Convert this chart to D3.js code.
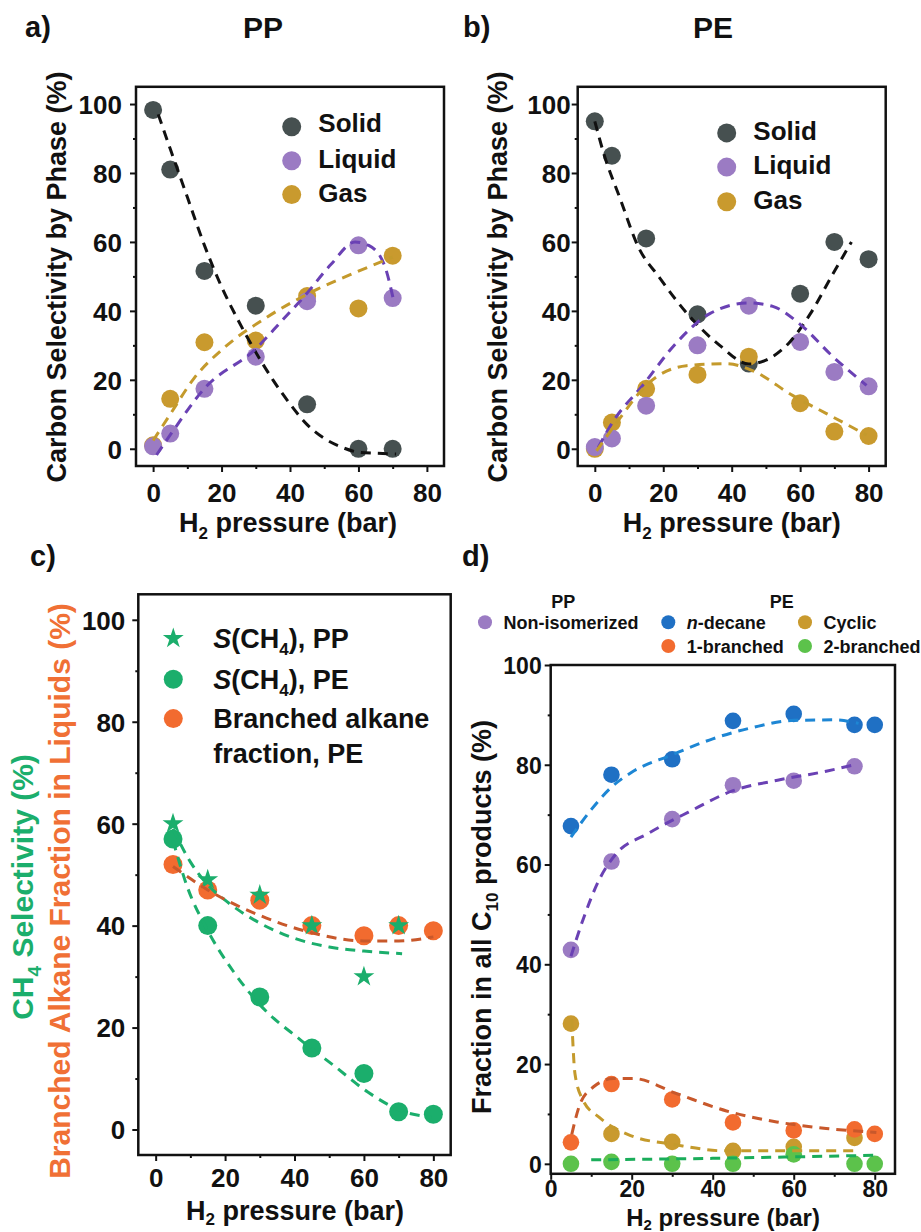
<!DOCTYPE html>
<html>
<head>
<meta charset="utf-8">
<script src="https://cdn.jsdelivr.net/npm/d3@7/dist/d3.min.js"></script>
<style>
  body { margin: 0; background: #fff; }
  svg text { font-family: "Liberation Sans", Arial, sans-serif; font-weight: bold; }
</style>
</head>
<body>
<div id="chart"></div>
<script>
// panel a / b : carbon selectivity by phase
const ppPressure = [0, 5, 15, 30, 45, 60, 70];
const ppSolid = [98.3, 81, 51.6, 41.5, 12.9, 0, 0];
const ppLiquid = [0.7, 4.4, 17.4, 26.7, 42.8, 59, 43.7];
const ppGas = [1, 14.5, 30.9, 31.4, 44.3, 40.7, 56];

const pePressure = [0, 5, 15, 30, 45, 60, 70, 80];
const peSolid = [95, 85, 61, 39, 24.7, 45, 60, 55];
const peLiquid = [0.5, 3, 12.5, 30, 41.5, 31, 22.3, 18.1];
const peGas = [0, 7.6, 17.4, 21.5, 26.7, 13.2, 5, 3.7];

// fitted (dashed) curves
const ppSolidFitX = [1.5, 5, 10, 15, 20, 25, 30, 35, 40, 45, 50, 55, 60, 65, 71];
const ppSolidFitY = [97, 87, 73, 59, 47, 37, 28, 20, 13, 7, 3, 0.5, -1, -1.3, -1.5];
const ppLiquidFitX = [1, 5, 15, 30, 37.5, 44, 52, 59, 63, 67.5, 70.5];
const ppLiquidFitY = [-1.8, 4, 17.5, 29, 37, 44, 53.5, 60, 59, 53.5, 42];
const ppGasFitX = [0, 5, 12, 21, 33, 48, 60, 70];
const ppGasFitY = [2.4, 10, 20.5, 29.5, 38, 46.3, 51.5, 55.6];

const peSolidFitX = [0, 2.5, 7.5, 12.5, 19, 27, 36.5, 45, 50, 57, 63, 69.5, 75];
const peSolidFitY = [95, 86, 72.3, 59, 49.5, 39.2, 30, 24.6, 25.7, 31, 39.2, 50.6, 60];
const peLiquidFitX = [1, 5.4, 14, 24, 33.6, 45, 52, 60, 69.6, 79.4];
const peLiquidFitY = [0.4, 8, 18.4, 30.9, 39.2, 42.3, 41.3, 36.1, 26.7, 18.4];
const peGasFitX = [0.5, 7.3, 15, 26.8, 38.5, 46.2, 57.9, 67.7, 79.4];
const peGasFitY = [-0.6, 8.8, 18.4, 24.1, 24.7, 22.6, 15.4, 10.2, 4];

// panel c : methane selectivity and branched fraction
const ch4PPPressure = [5, 15, 30, 45, 60, 70];
const ch4PP = [60, 49, 46, 40, 30, 40];
const ch4PEPressure = [5, 15, 30, 45, 60, 70, 80];
const ch4PE = [57, 40, 26, 16, 11, 3.5, 3];
const branchedPE = [52, 47, 45, 40, 38, 40, 39];

const ch4PPFitX = [5, 10, 15, 20, 30, 40, 50, 60, 71];
const ch4PPFitY = [59, 52.5, 48, 45, 40.5, 37.5, 35.8, 35, 34.5];
const ch4PEFitX = [5, 9, 14.7, 22.4, 30, 41.7, 51.4, 61, 70.7, 79.4];
const ch4PEFitY = [56.7, 47.8, 39.4, 31, 24.5, 17.6, 12.5, 7.4, 3.7, 2.4];
const branchedFitX = [5, 15, 30, 45, 60, 70, 80];
const branchedFitY = [51.6, 47, 42, 38.6, 37, 37, 37.8];

// panel d : C10 product fractions
const c10Pressure = [5, 15, 30, 45, 60, 75, 80];
const nonIsomerized = [42.9, 60.6, 69.1, 75.9, 76.8, 79.7];
const nDecane = [67.7, 78, 81.1, 88.8, 90.2, 88, 88];
const cyclic = [28.1, 6, 4.4, 2.6, 3.4, 5.2];
const oneBranched = [4.3, 16, 12.9, 8.3, 6.7, 6.9, 6];
const twoBranched = [0, 0.4, 0, 0, 1.9, 0, 0];

const nDecaneFitX = [5, 10, 15, 20, 30, 40, 50, 60, 70, 76];
const nDecaneFitY = [65.5, 71, 75.5, 78.5, 82, 85.2, 87.5, 88.9, 89, 88.3];
const nonIsoFitX = [5, 8, 12, 16, 24, 34, 45, 56, 68, 75];
const nonIsoFitY = [41.6, 49, 57, 62, 66.2, 70.5, 74.8, 76.9, 78.7, 80];
const cyclicFitX = [5.2, 6, 8, 12, 19, 31, 43, 60, 75];
const cyclicFitY = [29, 18, 12.7, 9.3, 5.9, 3.8, 2.6, 2.6, 2.6];
const oneBrFitX = [5.2, 7.2, 10.5, 15.5, 20.4, 31, 43.4, 55.8, 68, 80.4];
const oneBrFitY = [5.9, 11.9, 15.4, 17.1, 17.1, 14.1, 10.6, 8.4, 7.1, 6.3];
const twoBrFitX = [10, 40, 60, 80];
const twoBrFitY = [0.8, 1.1, 1.4, 1.7];

const phaseLabels = ['Solid', 'Liquid', 'Gas'];
const xTicks = [0, 20, 40, 60, 80];
const yTicks = [0, 20, 40, 60, 80, 100];

const col = {
  solid: '#465050', liquid: '#9b7bc3', gas: '#c99a2e',
  solidFit: '#111', liquidFit: '#6a41b4', gasFit: '#c49a2c',
  green: '#1bae6c', orange: '#f26b2f', orangeFit: '#c8582b',
  blue: '#1f70c4', blueFit: '#1d86d4', lime: '#5cc24b', limeFit: '#1aad5a'
};

const svg = d3.select('#chart').append('svg')
  .attr('width', 921)
  .attr('height', 1232);

function makePanel(o) {
  const g = svg.append('g').attr('transform', `translate(${o.left},${o.top})`);
  const x = d3.scaleLinear().domain(o.xDomain).range([0, o.width]);
  const y = d3.scaleLinear().domain(o.yDomain).range([o.height, 0]);

  const style = sel => {
    sel.attr('font-family', null).attr('font-size', null);
    sel.select('.domain').remove();
    sel.selectAll('line').attr('stroke', '#111').attr('stroke-width', 2);
    sel.selectAll('text').attr('fill', '#111').style('font-size', o.tickFont + 'px');
  };

  g.append('g').attr('transform', `translate(0,${o.height})`)
    .call(d3.axisBottom(x).tickValues([10, 30, 50, 70]).tickSize(3).tickFormat(''))
    .call(style);
  g.append('g')
    .call(d3.axisLeft(y).tickValues([10, 30, 50, 70, 90]).tickSize(3).tickFormat(''))
    .call(style);
  g.append('g').attr('transform', `translate(0,${o.height})`)
    .call(d3.axisBottom(x).tickValues(xTicks).tickSize(6).tickPadding(o.xPad))
    .call(style);
  g.append('g')
    .call(d3.axisLeft(y).tickValues(yTicks).tickSize(6).tickPadding(o.yPad))
    .call(style)
    .selectAll('text').attr('dy', '0.36em');

  g.append('rect')
    .attr('width', o.width)
    .attr('height', o.height)
    .attr('fill', 'none')
    .attr('stroke', '#111')
    .attr('stroke-width', 2.5);

  const marks = g.append('g');
  const fits = g.append('g');
  return { g, x, y, marks, fits };
}

function dots(p, xs, ys, color, r) {
  p.marks.append('g').selectAll('circle')
    .data(ys)
    .enter()
    .append('circle')
    .attr('cx', (d, i) => p.x(xs[i]))
    .attr('cy', d => p.y(d))
    .attr('r', r)
    .attr('fill', color);
}

function stars(p, xs, ys, color) {
  p.marks.append('g').selectAll('path')
    .data(ys)
    .enter()
    .append('path')
    .attr('transform', (d, i) => `translate(${p.x(xs[i])},${p.y(d)})`)
    .attr('d', d3.symbol(d3.symbolStar).size(135))
    .attr('fill', color);
}

function fit(p, xs, ys, color) {
  const line = d3.line()
    .x(d => p.x(d[0]))
    .y(d => p.y(d[1]))
    .curve(d3.curveMonotoneX);
  p.fits.append('path')
    .attr('d', line(xs.map((v, i) => [v, ys[i]])))
    .attr('fill', 'none')
    .attr('stroke', color)
    .attr('stroke-width', 3)
    .attr('stroke-dasharray', '10,7');
}

function label(x, y, parts, o = {}) {
  const fs = o.size || 26;
  const shift = fs * (o.subShift || 0.25);
  const t = svg.append('text')
    .attr('text-anchor', o.anchor || 'start')
    .attr('fill', o.color || '#111')
    .style('font-size', fs + 'px');
  if (o.rotate) t.attr('transform', `translate(${x},${y}) rotate(-90)`);
  else t.attr('x', x).attr('y', y);
  parts.forEach(pt => {
    const s = typeof pt === 'string' ? { t: pt } : pt;
    const ts = t.append('tspan').text(s.t);
    if (s.sub) ts.style('font-size', Math.round(fs * 0.62) + 'px').attr('dy', shift);
    if (s.after) ts.attr('dy', -shift);
    if (s.italic) ts.style('font-style', 'italic');
  });
  return t;
}

const h2Title = [{ t: 'H' }, { t: '2', sub: true }, { t: ' pressure (bar)', after: true }];

// ---- a) PP
const pa = makePanel({ left: 136, top: 86.8, width: 308, height: 379.2, xDomain: [-5, 85], yDomain: [-5, 105], tickFont: 26, xPad: 12, yPad: 8 });
dots(pa, ppPressure, ppSolid, col.solid, 9);
dots(pa, ppPressure, ppGas, col.gas, 9);
dots(pa, ppPressure, ppLiquid, col.liquid, 9);
fit(pa, ppSolidFitX, ppSolidFitY, col.solidFit);
fit(pa, ppLiquidFitX, ppLiquidFitY, col.liquidFit);
fit(pa, ppGasFitX, ppGasFitY, col.gasFit);

// ---- b) PE
const pb = makePanel({ left: 577.7, top: 86.8, width: 308, height: 379.2, xDomain: [-5, 85], yDomain: [-5, 105], tickFont: 26, xPad: 12, yPad: 1 });
dots(pb, pePressure, peSolid, col.solid, 9);
dots(pb, pePressure, peGas, col.gas, 9);
dots(pb, pePressure, peLiquid, col.liquid, 9);
fit(pb, peSolidFitX, peSolidFitY, col.solidFit);
fit(pb, peLiquidFitX, peLiquidFitY, col.liquidFit);
fit(pb, peGasFitX, peGasFitY, col.gasFit);

// ---- c) CH4 selectivity
const pc = makePanel({ left: 138.3, top: 594.3, width: 312.4, height: 560.7, xDomain: [-5, 85], yDomain: [-5, 105], tickFont: 26, xPad: 8, yPad: 7 });
dots(pc, ch4PEPressure, branchedPE, col.orange, 9.5);
dots(pc, ch4PEPressure, ch4PE, col.green, 9.5);
stars(pc, ch4PPPressure, ch4PP, col.green);
fit(pc, ch4PPFitX, ch4PPFitY, col.green);
fit(pc, ch4PEFitX, ch4PEFitY, col.green);
fit(pc, branchedFitX, branchedFitY, col.orangeFit);

// ---- d) C10 products
const pd = makePanel({ left: 550.7, top: 665, width: 344.3, height: 508.8, xDomain: [0, 85], yDomain: [-2, 100], tickFont: 23, xPad: 1, yPad: 3 });
dots(pd, c10Pressure, cyclic, col.gas, 8.3);
dots(pd, c10Pressure, oneBranched, col.orange, 8.3);
dots(pd, c10Pressure, twoBranched, col.lime, 8.3);
dots(pd, c10Pressure, nonIsomerized, col.liquid, 8.3);
dots(pd, c10Pressure, nDecane, col.blue, 8.3);
fit(pd, nDecaneFitX, nDecaneFitY, col.blueFit);
fit(pd, nonIsoFitX, nonIsoFitY, col.liquidFit);
fit(pd, cyclicFitX, cyclicFitY, col.gasFit);
fit(pd, oneBrFitX, oneBrFitY, col.orangeFit);
fit(pd, twoBrFitX, twoBrFitY, col.limeFit);

// ---- panel letters, titles
label(25, 37, ['a)'], { size: 29 });
label(463, 37, ['b)'], { size: 29 });
label(30, 566, ['c)'], { size: 29 });
label(462, 566, ['d)'], { size: 29 });
label(263, 37.5, ['PP'], { size: 30, anchor: 'middle' });
label(713, 37.5, ['PE'], { size: 30, anchor: 'middle' });

// axis titles
label(288, 532, h2Title, { size: 27, anchor: 'middle' });
label(731.7, 532, h2Title, { size: 27, anchor: 'middle' });
label(295, 1220, h2Title, { size: 27, anchor: 'middle', subShift: 0.18 });
label(723, 1226, h2Title, { size: 24, anchor: 'middle', subShift: 0.15 });
label(66, 277, ['Carbon Selectivity by Phase (%)'], { size: 27, anchor: 'middle', rotate: true });
label(507, 277, ['Carbon Selectivity by Phase (%)'], { size: 27, anchor: 'middle', rotate: true });
label(491, 917, ['Fraction in all C', { t: '10', sub: true }, { t: ' products (%)', after: true }], { size: 27, anchor: 'middle', rotate: true });
label(33, 887, ['CH', { t: '4', sub: true }, { t: ' Selectivity (%)', after: true }], { size: 30, anchor: 'middle', rotate: true, color: col.green });
label(70, 891, ['Branched Alkane Fraction in Liquids (%)'], { size: 30, anchor: 'middle', rotate: true, color: '#f07035' });

// ---- legends a / b
const legA = [[126.8, 132], [160.7, 168], [194.6, 202]];
const legB = [[132.9, 140], [167.1, 174], [201.8, 209]];
const phaseColors = [col.solid, col.liquid, col.gas];
phaseLabels.forEach((name, i) => {
  svg.append('circle').attr('cx', 291.7).attr('cy', legA[i][0]).attr('r', 9.5).attr('fill', phaseColors[i]);
  label(318.3, legA[i][1], [name], { size: 26 });
  svg.append('circle').attr('cx', 726.7).attr('cy', legB[i][0]).attr('r', 9.5).attr('fill', phaseColors[i]);
  label(753.3, legB[i][1], [name], { size: 26 });
});

// ---- legend c
svg.append('path')
  .attr('transform', 'translate(173.3,638.4)')
  .attr('d', d3.symbol(d3.symbolStar).size(135))
  .attr('fill', col.green);
svg.append('circle').attr('cx', 173.3).attr('cy', 679.2).attr('r', 9.5).attr('fill', col.green);
svg.append('circle').attr('cx', 173.3).attr('cy', 718.6).attr('r', 9.5).attr('fill', col.orange);
label(213.3, 648, [{ t: 'S', italic: true }, '(CH', { t: '4', sub: true }, { t: '), PP', after: true }], { size: 27 });
label(213.3, 689, [{ t: 'S', italic: true }, '(CH', { t: '4', sub: true }, { t: '), PE', after: true }], { size: 27 });
label(213.3, 728, ['Branched alkane'], { size: 27 });
label(213.3, 762.5, ['fraction, PE'], { size: 27 });

// ---- legend d
label(563.3, 608, ['PP'], { size: 18, anchor: 'middle' });
label(781.7, 608, ['PE'], { size: 18, anchor: 'middle' });
const legD = [
  { cx: 485, cy: 622.3, c: col.liquid, t: ['Non-isomerized'] },
  { cx: 668.3, cy: 622.3, c: col.blue, t: [{ t: 'n', italic: true }, '-decane'] },
  { cx: 805, cy: 622.3, c: col.gas, t: ['Cyclic'] },
  { cx: 668.3, cy: 646, c: col.orange, t: ['1-branched'] },
  { cx: 805, cy: 646, c: col.lime, t: ['2-branched'] }
];
legD.forEach(d => {
  svg.append('circle').attr('cx', d.cx).attr('cy', d.cy).attr('r', 7).attr('fill', d.c);
  label(d.cx + 18.5, d.cy + 6.5, d.t, { size: 18 });
});
</script>
</body>
</html>
